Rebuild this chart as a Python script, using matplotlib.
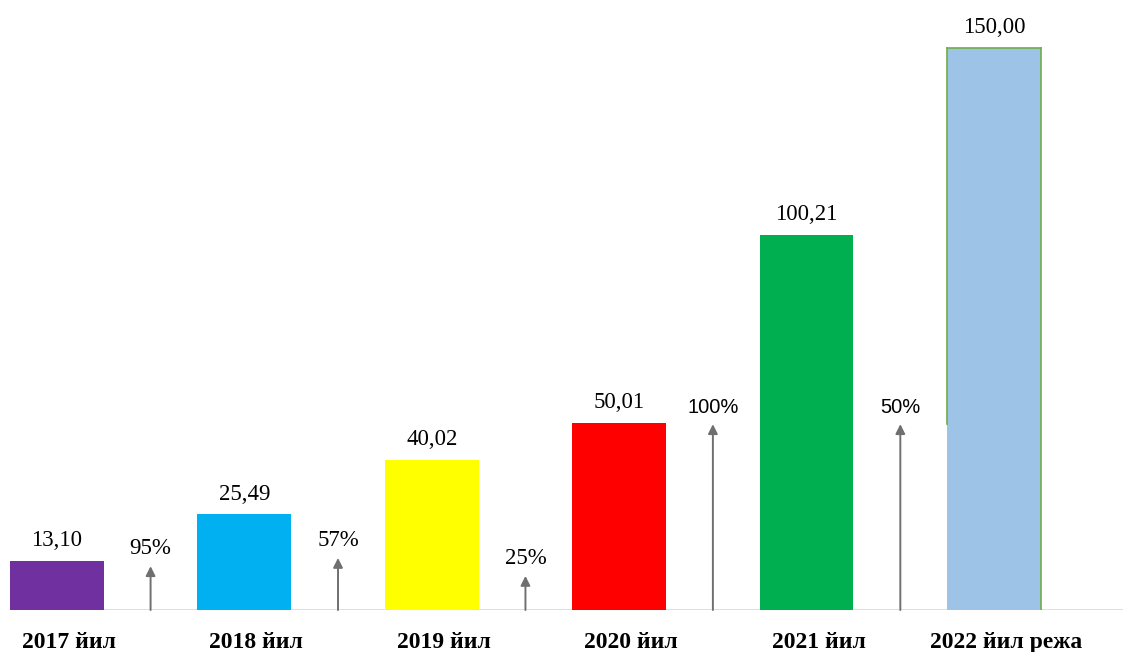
import matplotlib.pyplot as plt
import matplotlib.transforms as mtransforms

# data
years = ['2017 йил', '2018 йил', '2019 йил', '2020 йил', '2021 йил', '2022 йил режа']
values = [13.10, 25.49, 40.02, 50.01, 100.21, 150.00]
value_labels = ['13,10', '25,49', '40,02', '50,01', '100,21', '150,00']
colors = ['#7030A0', '#00B0F0', '#FFFF00', '#FF0000', '#00B050', '#9DC3E6']

growth_labels = ['95%', '57%', '25%', '100%', '50%']
arrow_heights = [11.7, 13.9, 9.1, 49.6, 49.6]

fig = plt.figure(figsize=(11.23, 6.52), dpi=100)
ax = fig.add_axes([10 / 1123, 42 / 652, 1 - 10 / 1123, 599.5 / 652])

x = list(range(len(years)))
bars = ax.bar(x, values, width=0.5, color=colors, zorder=2)

# value labels
for i, b in enumerate(bars):
    ax.text(b.get_x() + b.get_width() / 2, values[i] + 2.6, value_labels[i],
            ha='center', va='bottom', fontsize=16.5, family='Liberation Serif')

# green outline on the plan bar (left edge only in the upper part)
last = bars[-1]
x0, x1 = last.get_x(), last.get_x() + last.get_width()
top = values[-1]
ax.plot([x0, x1], [top, top], color='#70AD47', lw=1.2, zorder=3)
ax.plot([x1, x1], [0, top], color='#70AD47', lw=1.2, zorder=3)
ax.plot([x0, x0], [arrow_heights[-1], top], color='#70AD47', lw=1.2, zorder=3)

# growth arrows between bars
for i, (lab, h) in enumerate(zip(growth_labels, arrow_heights)):
    xm = i + 0.5
    ax.annotate('', xy=(xm, h), xytext=(xm, 0),
                arrowprops=dict(arrowstyle='-|>', color='#6f6f6f', lw=1.4,
                                mutation_scale=14, shrinkA=0, shrinkB=0),
                zorder=3)
    fam = 'Liberation Serif' if i < 3 else 'Liberation Sans'
    ax.annotate(lab, xy=(xm, h), xytext=(0, 5), textcoords='offset points',
                ha='center', va='bottom', fontsize=16.5 if i < 3 else 14.5,
                family=fam)

ax.axhline(0, color='#d9d9d9', lw=1.2, zorder=1)

ax.set_xlim(-0.25, 5.688)
ax.set_ylim(0, 160)
ax.set_xticks(x)
ax.set_xticklabels(years, fontsize=17, fontweight='bold', family='Liberation Serif')
ax.tick_params(axis='x', length=0, pad=16)
shift = mtransforms.ScaledTranslation(12 / 100, 0, fig.dpi_scale_trans)
for t in ax.get_xticklabels():
    t.set_transform(t.get_transform() + shift)
ax.set_yticks([])
for s in ax.spines.values():
    s.set_visible(False)

fig.savefig('out.png', dpi=100)
